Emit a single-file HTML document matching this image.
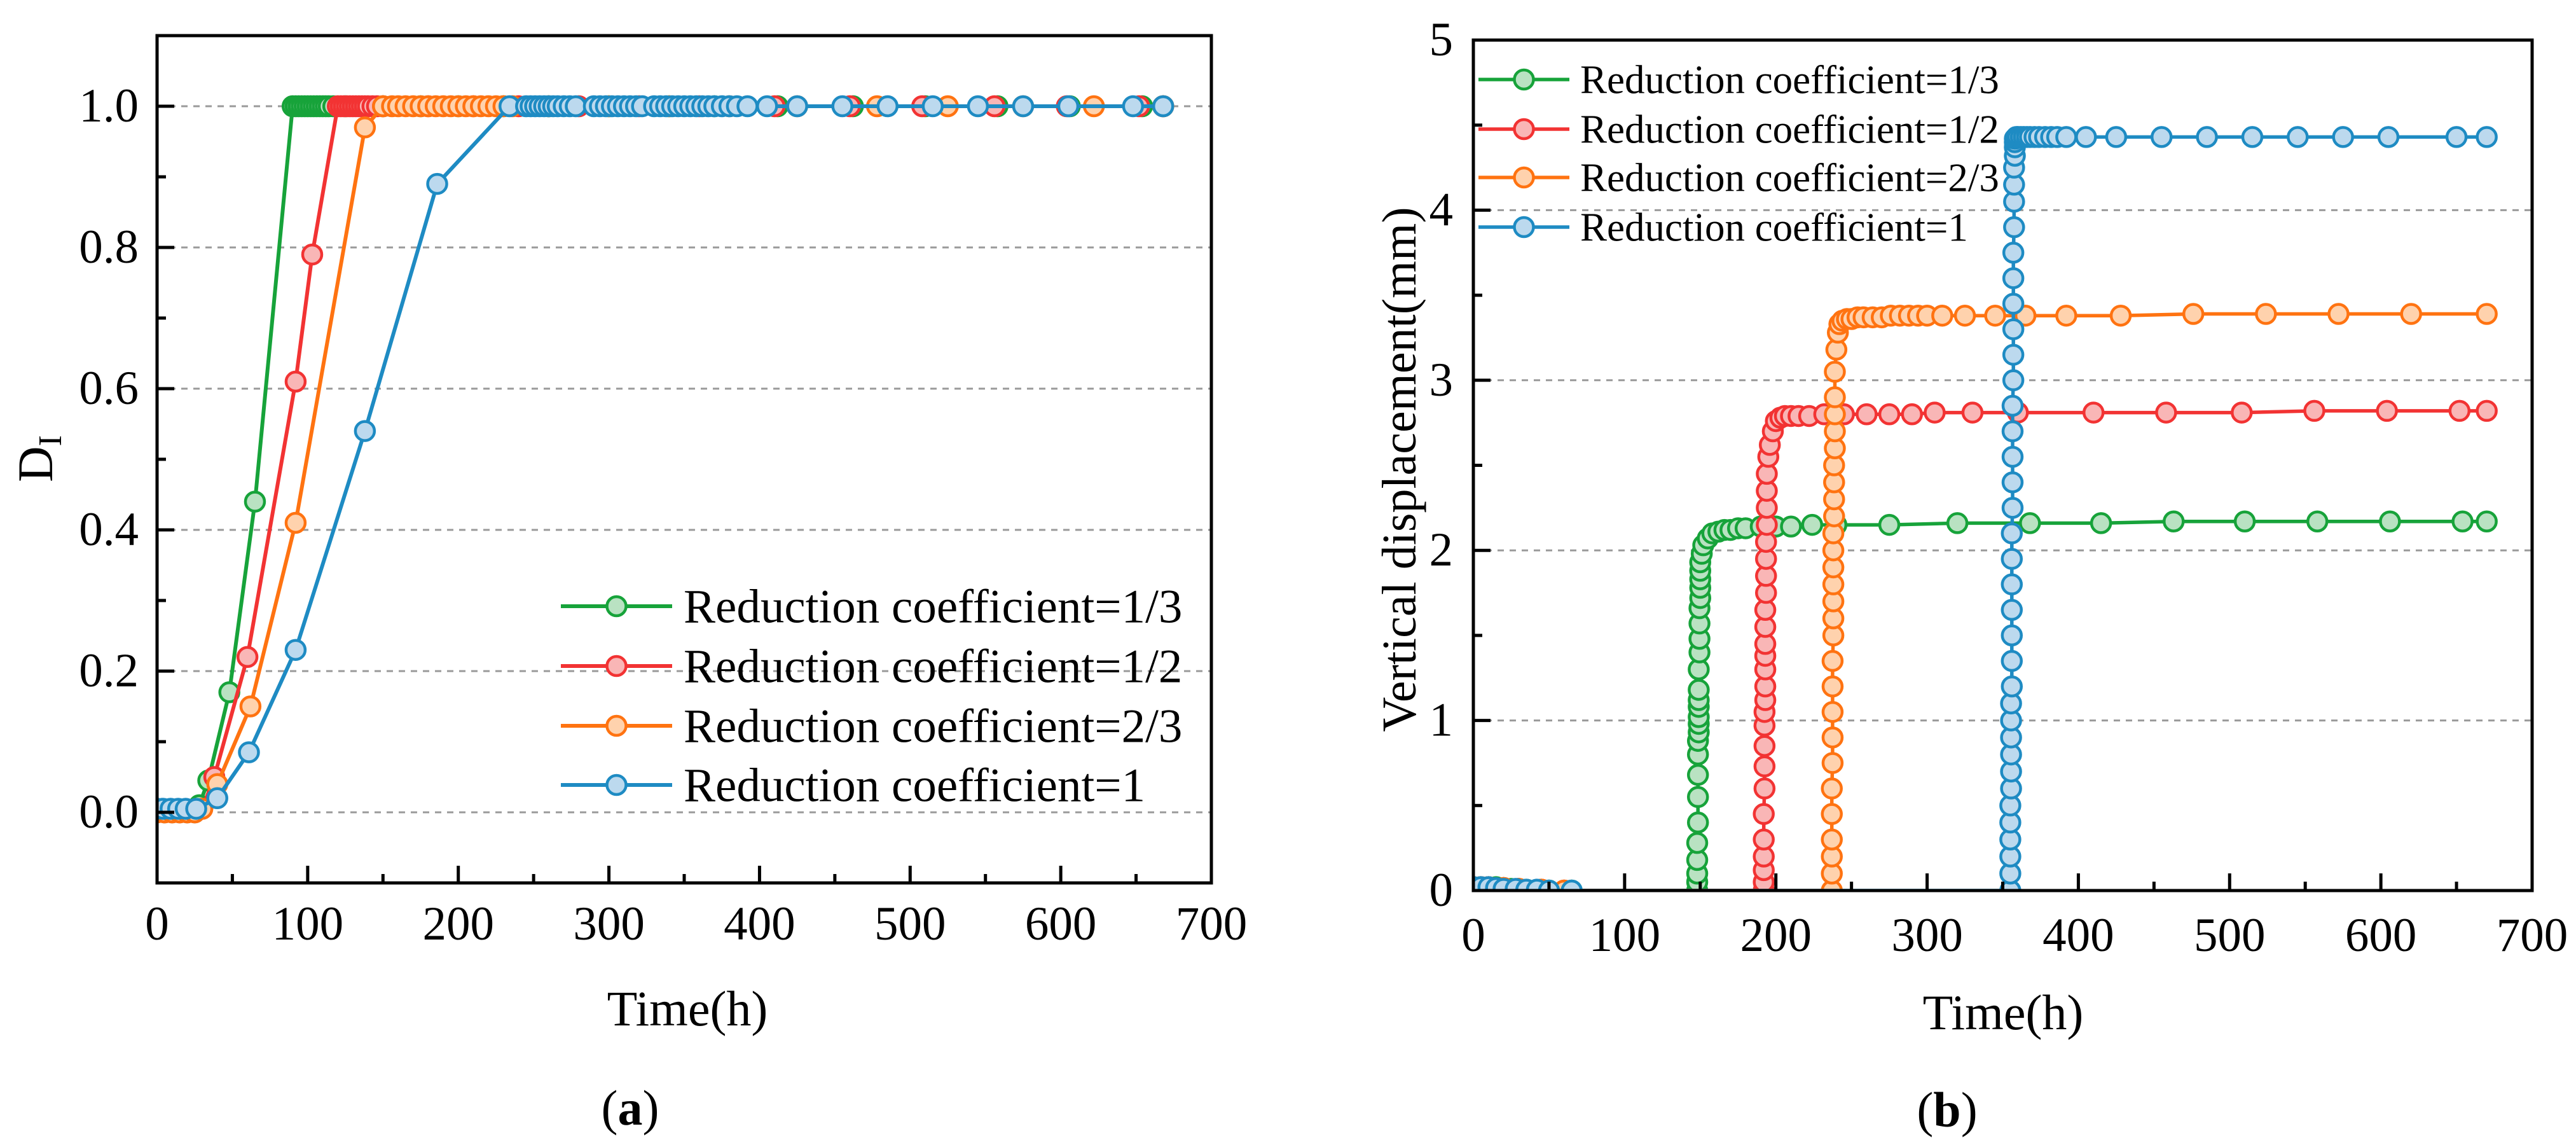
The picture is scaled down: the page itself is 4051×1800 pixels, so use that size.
<!DOCTYPE html>
<html><head><meta charset="utf-8">
<style>
html,body{margin:0;padding:0;background:#fff;}
svg{display:block;font-family:"Liberation Serif",serif;}
svg text{font-family:"Liberation Serif",serif;}
</style></head>
<body>
<svg id="fig" width="4051" height="1800" viewBox="0 0 4051 1800" xmlns="http://www.w3.org/2000/svg">
<defs>
<clipPath id="clipA"><rect x="247" y="56" width="1658" height="1332"/></clipPath>
<clipPath id="clipB"><rect x="2317" y="63" width="1665" height="1337"/></clipPath>
</defs>
<g id="panelA"></g>
<g id="panelB"></g>
</svg>
<script>
// ---------- Panel (a) data: D_I vs time ----------
const aT13 = [0,5,10,15,20,25,28,34,48,65,90,92,94,96,98,100,102,104,106,108,110,112,114,117,125,150,175,200,230,260,300,340,370,412,462,510,558,606,654,668];
const aV13 = [0,0,0,0,0,0,0.01,0.045,0.17,0.44,1,1,1,1,1,1,1,1,1,1,1,1,1,1,1,1,1,1,1,1,1,1,1,1,1,1,1,1,1,1];
const aT12 = [0,5,10,15,20,25,30,38,60,92,103,120,122,124,126,128,130,132,134,136,138,140,143,146,150,180,210,240,280,320,360,410,460,508,556,604,652,668];
const aV12 = [0,0,0,0,0,0,0.005,0.05,0.22,0.61,0.79,1,1,1,1,1,1,1,1,1,1,1,1,1,1,1,1,1,1,1,1,1,1,1,1,1,1,1];
const aT23 = [0,5,10,15,20,25,30,40,62,92,138,150,156,160,165,170,175,180,185,190,195,200,205,210,215,220,225,230,236,260,300,340,380,425,478,525,575,622,668];
const aV23 = [0,0,0,0,0,0,0.005,0.04,0.15,0.41,0.97,1,1,1,1,1,1,1,1,1,1,1,1,1,1,1,1,1,1,1,1,1,1,1,1,1,1,1,1];
const aT1 = [0,4,9,14,19,26,40,61,92,138,186,234,245,248,251,254,257,260,263,266,270,274,278,290,294,298,302,306,310,314,318,322,330,334,338,342,346,350,354,358,362,366,370,375,380,385,392,405,425,455,485,515,545,575,605,648,668];
const aV1 = [0.005,0.005,0.005,0.005,0.005,0.005,0.02,0.085,0.23,0.54,0.89,1,1,1,1,1,1,1,1,1,1,1,1,1,1,1,1,1,1,1,1,1,1,1,1,1,1,1,1,1,1,1,1,1,1,1,1,1,1,1,1,1,1,1,1,1,1];
const aXTicks = [0,100,200,300,400,500,600,700];
const aYTicks = [0.0,0.2,0.4,0.6,0.8,1.0];
const aYLabels = ["0.0","0.2","0.4","0.6","0.8","1.0"];

// ---------- Panel (b) data: vertical displacement vs time ----------
const bT13 = [0,5,10,15,20,25,30,35,42,50,65,148,148,148,148,148,148.5,148.5,148.5,148.5,148.5,149,149,149,149,149,149,149,149.5,149.5,149.5,149.5,150,150,150,150,150,151,152,155,158,162,166,170,175,180,190,200,210,224,240,275,320,368,415,463,510,558,606,654,670];
const bV13 = [0.02,0.02,0.02,0.02,0.015,0.01,0.01,0.005,0,0,0,0,0.05,0.1,0.18,0.28,0.4,0.55,0.68,0.8,0.88,0.93,0.98,1.02,1.08,1.12,1.18,1.3,1.4,1.48,1.57,1.66,1.72,1.78,1.83,1.88,1.93,1.98,2.03,2.07,2.1,2.11,2.12,2.12,2.13,2.13,2.14,2.14,2.14,2.15,2.15,2.15,2.16,2.16,2.16,2.17,2.17,2.17,2.17,2.17,2.17];
const bT12 = [0,5,10,20,30,45,60,192,192,192,192,192,192,192.5,192.5,192.5,192.5,192.5,193,193,193,193,193,193,193,193.5,193.5,193.5,193.5,194,194,194,194,195,196,198,200,203,206,210,215,222,232,245,260,275,290,305,330,360,410,458,508,556,604,652,670];
const bV12 = [0.02,0.02,0.02,0.015,0.01,0.005,0,0,0.05,0.12,0.2,0.3,0.45,0.6,0.73,0.85,0.97,1.05,1.12,1.2,1.3,1.38,1.45,1.55,1.65,1.75,1.85,1.95,2.05,2.15,2.25,2.35,2.45,2.55,2.62,2.7,2.76,2.78,2.79,2.79,2.79,2.79,2.8,2.8,2.8,2.8,2.8,2.81,2.81,2.81,2.81,2.81,2.81,2.82,2.82,2.82,2.82,2.82];
const bT23 = [0,5,10,20,30,45,60,237,237,237,237,237,237,237.5,237.5,237.5,237.5,237.5,238,238,238,238,238,238,238,238.5,238.5,238.5,238.5,239,239,239,239,239,240,241,242,244,247,250,254,258,264,270,276,282,288,294,300,310,325,345,365,392,428,476,524,572,620,670];
const bV23 = [0.02,0.02,0.02,0.015,0.01,0.005,0,0,0.1,0.2,0.3,0.45,0.6,0.75,0.9,1.05,1.2,1.35,1.5,1.6,1.7,1.8,1.9,2.0,2.1,2.2,2.3,2.4,2.5,2.6,2.7,2.8,2.9,3.05,3.18,3.28,3.33,3.35,3.36,3.36,3.37,3.37,3.37,3.37,3.38,3.38,3.38,3.38,3.38,3.38,3.38,3.38,3.38,3.38,3.38,3.39,3.39,3.39,3.39,3.39,3.39];
const bT1 = [0,5,10,15,20,28,35,42,50,65,355,355,355,355,355,355,355.5,355.5,355.5,355.5,355.5,355.5,356,356,356,356,356,356,356,356.5,356.5,356.5,356.5,356.5,357,357,357,357,357,357,357.5,357.5,357.5,357.5,358,358,358,358,359,360,362,364,366,368,371,374,378,382,386,392,405,425,455,485,515,545,575,605,650,670];
const bV1 = [0.02,0.02,0.02,0.015,0.01,0.01,0.005,0.005,0,0,0,0.1,0.2,0.3,0.4,0.5,0.6,0.7,0.8,0.9,1.0,1.1,1.2,1.35,1.5,1.65,1.8,1.95,2.1,2.25,2.4,2.55,2.7,2.85,3.0,3.15,3.3,3.45,3.6,3.75,3.9,4.05,4.15,4.25,4.32,4.37,4.4,4.42,4.43,4.43,4.43,4.43,4.43,4.43,4.43,4.43,4.43,4.43,4.43,4.43,4.43,4.43,4.43,4.43,4.43,4.43,4.43,4.43,4.43,4.43];
const bXTicks = [0,100,200,300,400,500,600,700];
const bYTicks = [0,1,2,3,4,5];
const bYLabels = ["0","1","2","3","4","5"];

const legendLabels = ["Reduction coefficient=1/3","Reduction coefficient=1/2","Reduction coefficient=2/3","Reduction coefficient=1"];
const lineColors = ["#17a33a","#f23333","#ff7311","#1e8bc3"];
const fillColors = ["#b9e2c2","#f9b6b6","#ffd2ad","#bcd9ee"];

const NS = "http://www.w3.org/2000/svg";
function mk(tag, attrs, parent){
  const e = document.createElementNS(NS, tag);
  for (const k in attrs) e.setAttribute(k, attrs[k]);
  parent.appendChild(e);
  return e;
}

function drawPanel(g, cfg){
  const X = t => cfg.x0 + (t - cfg.xmin) / (cfg.xmax - cfg.xmin) * (cfg.x1 - cfg.x0);
  const Y = v => cfg.y1 - (v - cfg.ymin) / (cfg.ymax - cfg.ymin) * (cfg.y1 - cfg.y0);
  cfg.gridVals.forEach(v => {
    const l = mk("line",{x1:cfg.x0,x2:cfg.x1,y1:Y(v),y2:Y(v),stroke:"#9a9a9a","stroke-width":3,"stroke-dasharray":"10,9"},g);
    
    
  });
  const sg = mk("g",{"clip-path":"url(#"+cfg.clip+")"},g);
  
  
  cfg.series.forEach((s, i) => {
    const pts = s.t.map((t, j) => X(t).toFixed(1) + "," + Y(s.v[j]).toFixed(1)).join(" ");
    const pl = mk("polyline",{points:pts,fill:"none",stroke:lineColors[i],"stroke-width":cfg.lw,"stroke-linejoin":"round"},sg);
    
    
    s.t.forEach((t, j) => {
      const c = mk("circle",{cx:X(t),cy:Y(s.v[j]),r:15,fill:fillColors[i],stroke:lineColors[i],"stroke-width":4.5},sg);
      
      
    });
  });
  const fr = mk("rect",{x:cfg.x0,y:cfg.y0,width:cfg.x1-cfg.x0,height:cfg.y1-cfg.y0,fill:"none",stroke:"#000","stroke-width":5},g);
  
  
  cfg.xTicks.forEach((t, k) => {
    const tk = mk("line",{x1:X(t),x2:X(t),y1:cfg.y1,y2:cfg.y1-27,stroke:"#000","stroke-width":5},g);
    
    
    if (k < cfg.xTicks.length - 1){
      const mt = (t + cfg.xTicks[k+1]) / 2;
      const m = mk("line",{x1:X(mt),x2:X(mt),y1:cfg.y1,y2:cfg.y1-14,stroke:"#000","stroke-width":5},g);
      
      
    }
    const tx = mk("text",{x:X(t),y:cfg.xLabelY,"text-anchor":"middle","font-size":75,fill:"#000"},g);
    tx.textContent = String(t);
    
    
  });
  cfg.yTicks.forEach((v, k) => {
    const tk = mk("line",{x1:cfg.x0,x2:cfg.x0+27,y1:Y(v),y2:Y(v),stroke:"#000","stroke-width":5},g);
    
    
    const tx = mk("text",{x:cfg.yLabelX,y:Y(v)+24,"text-anchor":"end","font-size":75,fill:"#000"},g);
    tx.textContent = cfg.yLabels[k];
    
    
  });
  cfg.yMinor.forEach(v => {
    const m = mk("line",{x1:cfg.x0,x2:cfg.x0+14,y1:Y(v),y2:Y(v),stroke:"#000","stroke-width":5},g);
    
    
  });
  legendLabels.forEach((lab, i) => {
    const ly = cfg.leg.ys[i];
    const ll = mk("line",{x1:cfg.leg.lx0,x2:cfg.leg.lx1,y1:ly,y2:ly,stroke:lineColors[i],"stroke-width":cfg.lw},g);
    
    
    const lc = mk("circle",{cx:(cfg.leg.lx0+cfg.leg.lx1)/2,cy:ly,r:15,fill:fillColors[i],stroke:lineColors[i],"stroke-width":4.5},g);
    
    
    const lt = mk("text",{x:cfg.leg.tx,y:ly+cfg.leg.fs*0.34,"font-size":cfg.leg.fs,fill:"#000"},g);
    lt.textContent = lab;
    
    
  });
  return {X, Y};
}

const gA = document.getElementById("panelA");
drawPanel(gA, {
  x0:247, x1:1905, y0:56, y1:1388, xmin:0, xmax:700, ymin:-0.1, ymax:1.1, clip:"clipA", lw:6,
  gridVals:aYTicks, xTicks:aXTicks, yTicks:aYTicks, yLabels:aYLabels,
  yMinor:[-0.1,0.1,0.3,0.5,0.7,0.9,1.1], xLabelY:1477, yLabelX:218,
  series:[{t:aT13,v:aV13},{t:aT12,v:aV12},{t:aT23,v:aV23},{t:aT1,v:aV1}],
  leg:{ys:[953,1047,1141,1234], lx0:882, lx1:1057, tx:1075, fs:75}
});
const gB = document.getElementById("panelB");
drawPanel(gB, {
  x0:2317, x1:3982, y0:63, y1:1400, xmin:0, xmax:700, ymin:0, ymax:5, clip:"clipB", lw:5.5,
  gridVals:[1,2,3,4], xTicks:bXTicks, yTicks:bYTicks, yLabels:bYLabels,
  yMinor:[0.5,1.5,2.5,3.5,4.5], xLabelY:1495, yLabelX:2285,
  series:[{t:bT13,v:bV13},{t:bT12,v:bV12},{t:bT23,v:bV23},{t:bT1,v:bV1}],
  leg:{ys:[125,203,279,357], lx0:2325, lx1:2468, tx:2485, fs:63}
});

function txt(parent, attrs, content, name){
  const e = mk("text", attrs, parent);
  e.textContent = content;
  
  
  return e;
}
txt(gA,{x:1081,y:1612,"text-anchor":"middle","font-size":78},"Time(h)","x-axis-title");
const dl = mk("text",{transform:"translate(82,721) rotate(-90)","text-anchor":"middle","font-size":78},gA);


dl.innerHTML = 'D<tspan font-size="52" dy="14">I</tspan>';
const capA = mk("text",{x:991,y:1768,"text-anchor":"middle","font-size":78},gA);


capA.innerHTML = '(<tspan font-weight="bold">a</tspan>)';

txt(gB,{x:3150,y:1618,"text-anchor":"middle","font-size":78},"Time(h)","x-axis-title");
txt(gB,{transform:"translate(2226,738) rotate(-90)","text-anchor":"middle","font-size":76},"Vertical displacement(mm)","y-axis-title");
const capB = mk("text",{x:3062,y:1771,"text-anchor":"middle","font-size":78},gB);


capB.innerHTML = '(<tspan font-weight="bold">b</tspan>)';
</script>
</body></html>
